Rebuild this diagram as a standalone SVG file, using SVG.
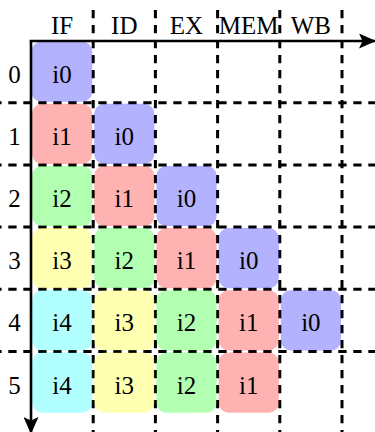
<svg xmlns="http://www.w3.org/2000/svg" width="375" height="432" viewBox="0 0 375 432">
<style>
.grid{stroke:#000;stroke-width:3;stroke-dasharray:8.3 6.7;fill:none}
.axis{stroke:#000;stroke-width:2.6;fill:none;marker-end:url(#arr)}
text{font-family:"Liberation Serif","Times New Roman",serif;font-size:25px;fill:#000;text-anchor:middle}
.b{stroke:none;opacity:0.3}
.c0{fill:#0000ff}.c1{fill:#ff0000}.c2{fill:#00ff00}.c3{fill:#ffff00}.c4{fill:#00ffff}
</style>
<defs>
<marker id="arr" markerUnits="userSpaceOnUse" viewBox="0 0 17 15" refX="16" refY="7.5" markerWidth="17" markerHeight="15" orient="auto">
<path d="M0,0 L17,7.5 L0,15 L3.5,7.5 Z" fill="#000"/>
</marker>
</defs>
<g id="grid">
<path class="grid" stroke-dashoffset="6.7" d="M0,102.7H375M0,164.9H375M0,227.1H375M0,289.3H375M0,351.5H375"/>
<path class="grid" d="M93.2,10V432M155.4,10V432M217.6,10V432M279.8,10V432M342,10V432"/>
</g>
<g id="labels">
<text x="62.1" y="34">IF</text>
<text x="124.3" y="34">ID</text>
<text x="186.5" y="34">EX</text>
<text x="248.7" y="34">MEM</text>
<text x="310.9" y="34">WB</text>
<text x="14.5" y="82.6">0</text>
<text x="14.5" y="144.8">1</text>
<text x="14.5" y="207">2</text>
<text x="14.5" y="269.2">3</text>
<text x="14.5" y="331.4">4</text>
<text x="14.5" y="393.6">5</text>
</g>
<g id="r0c0"><rect class="b c0" x="31.5" y="41.5" width="60.7" height="60.2" rx="10"/><text x="62.1" y="82.6">i0</text></g>
<g id="r1c0"><rect class="b c1" x="32" y="103.7" width="60.2" height="60.2" rx="10"/><text x="62.1" y="144.8">i1</text></g>
<g id="r1c1"><rect class="b c0" x="94.2" y="103.7" width="60.2" height="60.2" rx="10"/><text x="124.3" y="144.8">i0</text></g>
<g id="r2c0"><rect class="b c2" x="32" y="165.9" width="60.2" height="60.2" rx="10"/><text x="62.1" y="207">i2</text></g>
<g id="r2c1"><rect class="b c1" x="94.2" y="165.9" width="60.2" height="60.2" rx="10"/><text x="124.3" y="207">i1</text></g>
<g id="r2c2"><rect class="b c0" x="156.4" y="165.9" width="60.2" height="60.2" rx="10"/><text x="186.5" y="207">i0</text></g>
<g id="r3c0"><rect class="b c3" x="32" y="228.1" width="60.2" height="60.2" rx="10"/><text x="62.1" y="269.2">i3</text></g>
<g id="r3c1"><rect class="b c2" x="94.2" y="228.1" width="60.2" height="60.2" rx="10"/><text x="124.3" y="269.2">i2</text></g>
<g id="r3c2"><rect class="b c1" x="156.4" y="228.1" width="60.2" height="60.2" rx="10"/><text x="186.5" y="269.2">i1</text></g>
<g id="r3c3"><rect class="b c0" x="218.6" y="228.1" width="60.2" height="60.2" rx="10"/><text x="248.7" y="269.2">i0</text></g>
<g id="r4c0"><rect class="b c4" x="32" y="290.3" width="60.2" height="60.2" rx="10"/><text x="62.1" y="331.4">i4</text></g>
<g id="r4c1"><rect class="b c3" x="94.2" y="290.3" width="60.2" height="60.2" rx="10"/><text x="124.3" y="331.4">i3</text></g>
<g id="r4c2"><rect class="b c2" x="156.4" y="290.3" width="60.2" height="60.2" rx="10"/><text x="186.5" y="331.4">i2</text></g>
<g id="r4c3"><rect class="b c1" x="218.6" y="290.3" width="60.2" height="60.2" rx="10"/><text x="248.7" y="331.4">i1</text></g>
<g id="r4c4"><rect class="b c0" x="280.8" y="290.3" width="60.2" height="60.2" rx="10"/><text x="310.9" y="331.4">i0</text></g>
<g id="r5c0"><rect class="b c4" x="32" y="352.5" width="60.2" height="60.2" rx="10"/><text x="62.1" y="393.6">i4</text></g>
<g id="r5c1"><rect class="b c3" x="94.2" y="352.5" width="60.2" height="60.2" rx="10"/><text x="124.3" y="393.6">i3</text></g>
<g id="r5c2"><rect class="b c2" x="156.4" y="352.5" width="60.2" height="60.2" rx="10"/><text x="186.5" y="393.6">i2</text></g>
<g id="r5c3"><rect class="b c1" x="218.6" y="352.5" width="60.2" height="60.2" rx="10"/><text x="248.7" y="393.6">i1</text></g>
<g id="axes">
<path class="axis" d="M29.7,41H375"/>
<path class="axis" d="M31,41V433"/>
</g>
</svg>
